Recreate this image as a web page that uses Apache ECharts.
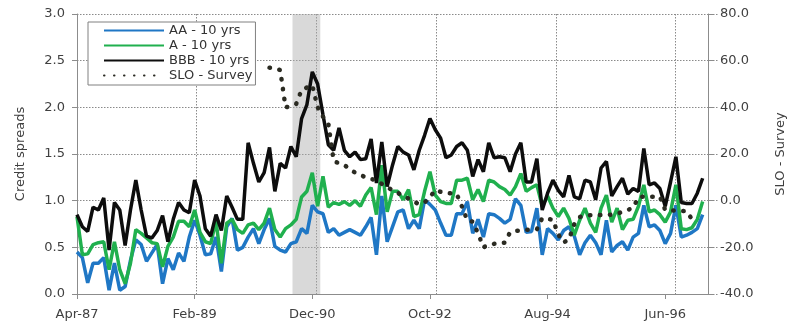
<!DOCTYPE html>
<html>
<head>
<meta charset="utf-8">
<script src="https://cdn.jsdelivr.net/npm/echarts@6/dist/echarts.min.js"></script>
<style>
  html, body { margin: 0; padding: 0; background: #fff; }
  #chart { width: 795px; height: 328px; }
</style>
</head>
<body>
<div id="chart"></div>
<script>
// Monthly categories, Apr-87 through Feb-97
const startYear = 1987;
const startMonth = 3; // April (0-based)
const monthCount = 119;
const monthNames = ['Jan', 'Feb', 'Mar', 'Apr', 'May', 'Jun', 'Jul', 'Aug', 'Sep', 'Oct', 'Nov', 'Dec'];
const categories = [];
for (let k = 0; k < monthCount; k++) {
  const m = (startMonth + k) % 12;
  const y = startYear + Math.floor((startMonth + k) / 12);
  categories.push(monthNames[m] + '-' + String(y % 100).padStart(2, '0'));
}

// Credit spreads (left axis), one value per month from Apr-87
const aa10 = [
  0.45, 0.39, 0.12, 0.33, 0.33, 0.39, 0.04, 0.33, 0.04, 0.08,
  0.36, 0.58, 0.53, 0.35, 0.44, 0.53, 0.11, 0.38, 0.26, 0.44,
  0.35, 0.61, 0.79, 0.63, 0.42, 0.43, 0.61, 0.24, 0.72, 0.81,
  0.47, 0.50, 0.61, 0.70, 0.54, 0.69, 0.81, 0.51, 0.47, 0.45,
  0.54, 0.56, 0.70, 0.65, 0.95, 0.88, 0.86, 0.66, 0.70, 0.63,
  0.66, 0.69, 0.66, 0.63, 0.72, 0.82, 0.42, 1.05, 0.56, 0.72,
  0.88, 0.90, 0.70, 0.79, 0.70, 1.01, 0.96, 0.90, 0.76, 0.63,
  0.63, 0.86, 0.86, 0.99, 0.65, 0.80, 0.61, 0.86, 0.85, 0.81,
  0.76, 0.80, 1.02, 0.95, 0.66, 0.67, 0.92, 0.42, 0.70, 0.65,
  0.58, 0.68, 0.72, 0.62, 0.42, 0.55, 0.63, 0.55, 0.42, 0.79,
  0.45, 0.52, 0.56, 0.47, 0.61, 0.65, 0.95, 0.72, 0.74, 0.68,
  0.54, 0.65, 0.95, 0.61, 0.63, 0.66, 0.70, 0.85
];
const a10 = [
  0.83, 0.42, 0.43, 0.53, 0.55, 0.56, 0.26, 0.56, 0.26, 0.11,
  0.33, 0.69, 0.65, 0.60, 0.55, 0.54, 0.29, 0.51, 0.61, 0.78,
  0.78, 0.72, 0.90, 0.66, 0.56, 0.54, 0.78, 0.33, 0.76, 0.80,
  0.69, 0.65, 0.74, 0.76, 0.69, 0.76, 0.92, 0.69, 0.61, 0.70,
  0.74, 0.80, 1.04, 1.10, 1.30, 0.94, 1.26, 0.93, 0.98, 0.96,
  0.99, 0.95, 1.00, 0.94, 1.06, 1.14, 0.85, 1.38, 0.88, 1.10,
  1.10, 1.01, 1.12, 0.83, 0.85, 1.10, 1.31, 1.06, 0.99, 0.97,
  0.97, 1.22, 1.22, 1.24, 1.01, 1.12, 0.99, 1.22, 1.20, 1.15,
  1.12, 1.06, 1.15, 1.29, 1.10, 1.14, 1.17, 0.94, 1.05, 0.92,
  0.83, 0.92, 0.81, 0.63, 0.79, 0.92, 0.76, 0.66, 0.92, 1.06,
  0.77, 0.92, 0.69, 0.79, 0.80, 0.94, 1.17, 0.88, 0.90, 0.85,
  0.77, 0.88, 1.17, 0.70, 0.69, 0.71, 0.80, 0.99
];
const bbb10 = [
  0.85, 0.72, 0.67, 0.93, 0.90, 1.03, 0.47, 0.98, 0.90, 0.52,
  0.90, 1.22, 0.90, 0.62, 0.60, 0.68, 0.84, 0.56, 0.80, 0.98,
  0.90, 0.87, 1.22, 1.05, 0.70, 0.62, 0.85, 0.68, 1.05, 0.93,
  0.80, 0.80, 1.62, 1.40, 1.20, 1.30, 1.57, 1.10, 1.40, 1.35,
  1.58, 1.47, 1.88, 2.03, 2.38, 2.25, 1.92, 1.60, 1.54, 1.78,
  1.54, 1.47, 1.52, 1.44, 1.45, 1.66, 1.19, 1.63, 1.15, 1.38,
  1.58, 1.52, 1.49, 1.33, 1.54, 1.70, 1.88, 1.76, 1.67, 1.46,
  1.49, 1.58, 1.62, 1.54, 1.26, 1.44, 1.31, 1.62, 1.46, 1.47,
  1.46, 1.31, 1.50, 1.62, 1.20, 1.20, 1.45, 0.90, 1.08, 1.22,
  1.11, 1.04, 1.27, 1.04, 1.02, 1.22, 1.20, 1.01, 1.35, 1.42,
  1.05, 1.15, 1.24, 1.07, 1.13, 1.10, 1.56, 1.17, 1.19, 1.13,
  0.94, 1.20, 1.47, 0.98, 0.97, 0.97, 1.08, 1.24
];

// Senior Loan Officer survey (right axis), monthly from Apr-90 onward
const sloStartIndex = 36;
const sloValues = [
  57.0, 56.5, 56.0, 40.0, 40.5, 41.5, 47.5, 48.5, 49.5, 40.0,
  36.0, 33.0, 17.0, 16.0, 15.3, 13.5, 12.0, 11.0, 10.0, 9.3,
  8.7, 7.2, 5.7, 4.5, 3.3, 2.0, 0.9, -0.5, -1.5, -0.8,
  1.5, 4.5, 3.8, 3.4, 3.1, 2.9, -2.6, -8.5, -9.0, -14.0,
  -20.0, -19.0, -18.5, -18.2, -18.0, -13.5, -13.0, -12.7, -12.5, -12.4,
  -12.3, -7.5, -7.8, -8.2, -14.5, -18.0, -16.5, -10.0, -7.0, -6.4,
  -6.2, -6.1, -6.1, -6.1, -6.0, -5.6, -4.8, -4.0, -3.0, 1.5,
  1.7, 1.7, 1.7, 1.7, -4.0, -4.2, -4.3, -4.4, -4.5, -8.0,
  -8.0
];
const slo = categories.map((_, k) => {
  const v = sloValues[k - sloStartIndex];
  return v === undefined ? null : v;
});

// Shaded recession period, in months from Apr-87
const recession = [40.3, 45.5];

const textColor = '#404040';
const font = 'DejaVu Sans';
const plotBox = { left: 77, right: 76, top: 14, bottom: 34 };
const gridStyle = () => ({ color: '#8a8a8a', type: [1.5, 1.5], width: 1 });
const axisLine = () => ({ show: true, lineStyle: { color: '#8c8c8c', width: 1 } });

const chart = echarts.init(document.getElementById('chart'));
chart.setOption({
  animation: false,
  // grid 0 carries the data and labelled axes; grid 1 overlays it and only draws the dotted gridlines
  grid: [Object.assign({}, plotBox), Object.assign({}, plotBox)],
  legend: {
    orient: 'vertical',
    left: 88,
    top: 22,
    padding: [2, 3, 3, 15],
    itemWidth: 60,
    itemHeight: 14,
    itemGap: 2,
    borderColor: '#808080',
    borderWidth: 1,
    backgroundColor: '#ffffff',
    itemStyle: { opacity: 0 },
    textStyle: { fontFamily: font, fontSize: 13, color: '#333333' },
    data: ['AA - 10 yrs', 'A - 10 yrs', 'BBB - 10 yrs', 'SLO - Survey']
  },
  xAxis: [
    {
      type: 'category',
      gridIndex: 0,
      data: categories,
      boundaryGap: false,
      axisLine: axisLine(),
      axisTick: { show: true, interval: 21 },
      axisLabel: { interval: 21, margin: 14, fontFamily: font, fontSize: 13, color: textColor },
      splitLine: { show: false }
    },
    {
      type: 'value',
      gridIndex: 0,
      min: 0,
      max: monthCount - 1,
      show: false
    },
    {
      type: 'category',
      gridIndex: 1,
      data: categories,
      boundaryGap: false,
      axisLine: { show: false },
      axisTick: { show: false },
      axisLabel: { show: false, interval: 21 },
      splitLine: { show: true, interval: 21, lineStyle: gridStyle() }
    }
  ],
  yAxis: [
    {
      type: 'value',
      gridIndex: 0,
      min: 0,
      max: 3,
      interval: 0.5,
      name: 'Credit spreads',
      nameLocation: 'middle',
      nameRotate: 90,
      nameGap: 50,
      nameTextStyle: { fontFamily: font, fontSize: 13, color: textColor },
      axisLine: axisLine(),
      axisTick: { show: true },
      axisLabel: { margin: 12, fontFamily: font, fontSize: 13, color: textColor, formatter: v => v.toFixed(1) },
      splitLine: { show: false }
    },
    {
      type: 'value',
      gridIndex: 0,
      min: -40,
      max: 80,
      interval: 20,
      position: 'right',
      name: 'SLO - Survey',
      nameLocation: 'middle',
      nameRotate: 90,
      nameGap: 66,
      nameTextStyle: { fontFamily: font, fontSize: 13, color: textColor },
      axisLine: axisLine(),
      axisTick: { show: true },
      axisLabel: { margin: 12, fontFamily: font, fontSize: 13, color: textColor, formatter: v => v.toFixed(1) },
      splitLine: { show: false }
    },
    {
      type: 'value',
      gridIndex: 1,
      min: 0,
      max: 3,
      interval: 0.5,
      axisLine: { show: false },
      axisTick: { show: false },
      axisLabel: { show: false },
      splitLine: { show: true, lineStyle: gridStyle() }
    }
  ],
  series: [
    {
      type: 'line',
      xAxisIndex: 1,
      yAxisIndex: 0,
      data: [[0, null]],
      symbol: 'none',
      silent: true,
      markArea: {
        silent: true,
        itemStyle: { color: 'rgba(170,170,170,0.45)' },
        data: [[{ xAxis: recession[0] }, { xAxis: recession[1] }]]
      }
    },
    {
      // empty series keeping the gridline overlay grid alive
      type: 'line',
      xAxisIndex: 2,
      yAxisIndex: 2,
      data: [],
      symbol: 'none',
      silent: true
    },
    {
      name: 'AA - 10 yrs',
      type: 'line',
      data: aa10,
      symbol: 'none',
      lineStyle: { color: '#1f77c5', width: 3.5 },
      itemStyle: { color: '#1f77c5' }
    },
    {
      name: 'A - 10 yrs',
      type: 'line',
      data: a10,
      symbol: 'none',
      lineStyle: { color: '#20b04e', width: 3.5 },
      itemStyle: { color: '#20b04e' }
    },
    {
      name: 'BBB - 10 yrs',
      type: 'line',
      data: bbb10,
      symbol: 'none',
      lineStyle: { color: '#0d0d0d', width: 3.5 },
      itemStyle: { color: '#0d0d0d' }
    },
    {
      name: 'SLO - Survey',
      type: 'line',
      yAxisIndex: 1,
      data: slo,
      symbol: 'none',
      connectNulls: false,
      lineStyle: { color: '#2b2b22', width: 4.5, type: [0.5, 9.5], cap: 'round' },
      itemStyle: { color: '#2b2b22' }
    }
  ]
});
</script>
</body>
</html>
